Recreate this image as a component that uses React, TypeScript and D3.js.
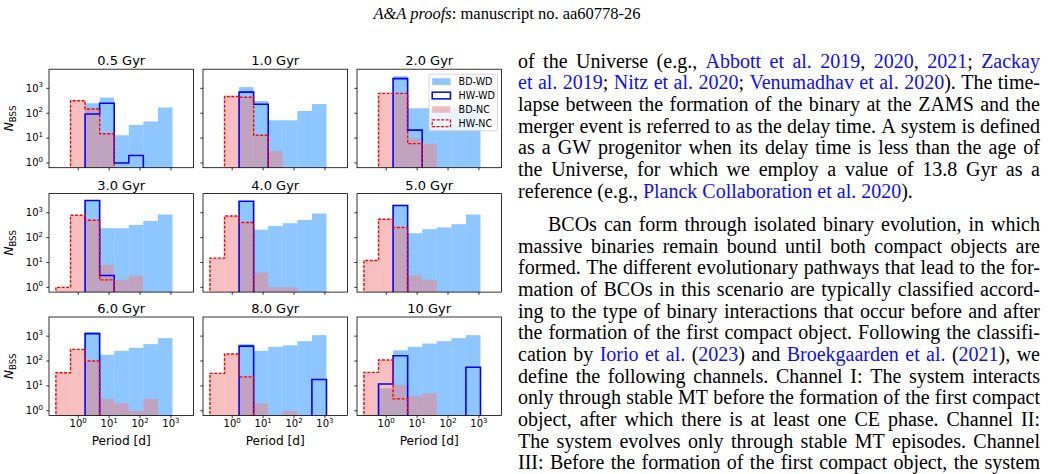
import * as d3 from "d3";

// Histogram values per panel (counts per log-period bin).
const ages = ["0.5 Gyr", "1.0 Gyr", "2.0 Gyr", "3.0 Gyr", "4.0 Gyr", "5.0 Gyr", "6.0 Gyr", "8.0 Gyr", "10 Gyr"];
const binEdges = [0.19, 0.564, 1.667, 4.94, 14.62, 43.25, 127.9, 379.3, 1122, 3311];

const bdWd = [
  [0, 0, 251, 427, 13, 34, 47, 170, 0],
  [0, 0, 1122, 309, 52, 52, 123, 234, 0],
  [0, 0, 3090, 158, 158, 158, 178, 224, 0],
  [0, 0, 3236, 240, 240, 324, 468, 851, 0],
  [0, 0, 2884, 209, 295, 380, 513, 933, 0],
  [0, 0, 2089, 151, 219, 257, 347, 851, 0],
  [0, 0, 1445, 178, 257, 339, 479, 832, 0],
  [0, 0, 479, 257, 372, 427, 631, 1096, 0],
  [0, 8, 269, 372, 501, 631, 832, 1096, 0],
];
const hwWd = [
  [0, 0, 93, 251, 1, 2, 0, 0, 0],
  [0, 0, 708, 229, 0, 0, 0, 0, 0],
  [0, 0, 2455, 21, 0, 0, 0, 0, 0],
  [0, 0, 3090, 3, 0, 0, 0, 0, 0],
  [0, 0, 2884, 0, 0, 0, 0, 0, 0],
  [0, 0, 1950, 0, 0, 0, 0, 0, 0],
  [0, 0, 1259, 0, 0, 0, 0, 0, 0],
  [0, 0, 398, 0, 0, 0, 0, 18, 0],
  [0, 12, 162, 0, 0, 0, 0, 56, 0],
];
const bdNc = [
  [0, 316, 148, 15, 0, 0, 0, 0, 0],
  [0, 490, 436, 13, 3, 0, 0, 0, 0],
  [0, 631, 631, 10, 6, 0, 0, 0, 0],
  [1, 794, 501, 8, 2, 3, 0, 0, 0],
  [15, 741, 407, 4, 1, 1, 0, 0, 0],
  [12, 550, 257, 3, 2, 0, 0, 0, 0],
  [34, 295, 100, 3, 2, 1, 3, 0, 0],
  [32, 191, 23, 2, 0, 1, 0, 0, 0],
  [35, 110, 11, 4, 5, 0, 0, 0, 0],
];
const hwNc = [
  [0, 316, 148, 15, 0, 0, 0, 0, 0],
  [0, 468, 436, 13, 0, 0, 0, 0, 0],
  [0, 631, 631, 6, 0, 0, 0, 0, 0],
  [1, 794, 501, 2, 0, 0, 0, 0, 0],
  [15, 741, 407, 0, 0, 0, 0, 0, 0],
  [12, 550, 257, 0, 0, 0, 0, 0, 0],
  [34, 295, 100, 0, 0, 0, 0, 0, 0],
  [32, 191, 23, 0, 0, 0, 0, 0, 0],
  [35, 110, 3, 0, 0, 0, 0, 0, 0],
];

const decadeTicks = [1, 10, 100, 1000];
const tickExponents = ["0", "1", "2", "3"];
const xDomain = [0.1135, 5370];
const yDomain = [0.6457, 5888];
const legendLabels = ["BD-WD", "HW-WD", "BD-NC", "HW-NC"];

const headerItalic = "A&A proofs";
const headerRest = ": manuscript no. aa60778-26";

// {...} marks a citation link
const para1 = [
  "of the Universe (e.g., {Abbott et al. 2019}, {2020}, {2021}; {Zackay",
  "{et al. 2019}; {Nitz et al. 2020}; {Venumadhav et al. 2020}). The time-",
  "lapse between the formation of the binary at the ZAMS and the",
  "merger event is referred to as the delay time. A system is defined",
  "as a GW progenitor when its delay time is less than the age of",
  "the Universe, for which we employ a value of 13.8 Gyr as a",
  "reference (e.g., {Planck Collaboration et al. 2020}).",
];
const para2 = [
  "BCOs can form through isolated binary evolution, in which",
  "massive binaries remain bound until both compact objects are",
  "formed. The different evolutionary pathways that lead to the for-",
  "mation of BCOs in this scenario are typically classified accord-",
  "ing to the type of binary interactions that occur before and after",
  "the formation of the first compact object. Following the classifi-",
  "cation by {Iorio et al.} ({2023}) and {Broekgaarden et al.} ({2021}), we",
  "define the following channels. Channel I: The system interacts",
  "only through stable MT before the formation of the first compact",
  "object, after which there is at least one CE phase. Channel II:",
  "The system evolves only through stable MT episodes. Channel",
  "III: Before the formation of the first compact object, the system",
];

const W = 144.5;
const H = 98.5;
const colX = [49, 203, 357];
const rowY = [69.2, 193.6, 317];
const SANS = "DejaVu Sans";
const SERIF = "Liberation Serif";
const LINK = "#0d0dff";
const BLUE_FILL = "#1e90ff";
const PINK_FILL = "#f08080";

const x = d3.scaleLog().domain(xDomain).range([0, W]);
const y = d3.scaleLog().domain(yDomain).range([H, 0]);

function stepPath(counts: number[]) {
  let d = "";
  let open = false;
  counts.forEach((c, j) => {
    const x0 = x(binEdges[j]);
    const x1 = x(binEdges[j + 1]);
    if (c > 0) {
      if (!open) {
        d += `M${x0},${H + 3}`;
        open = true;
      }
      d += `L${x0},${y(c)}L${x1},${y(c)}`;
    } else if (open) {
      d += `L${x0},${H + 3}`;
      open = false;
    }
  });
  if (open) d += `L${x(binEdges[counts.length])},${H + 3}`;
  return d;
}

function Bars({ counts, fill }: { counts: number[]; fill: string }) {
  return (
    <g>
      {counts.map((c, j) =>
        c > 0 ? (
          <rect
            key={j}
            x={x(binEdges[j])}
            y={y(c)}
            width={x(binEdges[j + 1]) - x(binEdges[j])}
            height={H - y(c) + 3}
            fill={fill}
            fillOpacity={0.5}
          />
        ) : null
      )}
    </g>
  );
}

function Power({ i, ...rest }: any) {
  return (
    <text fontFamily={SANS} fontSize={10} fill="#000" {...rest}>
      10
      <tspan fontSize={7} dy={-4.3}>
        {tickExponents[i]}
      </tspan>
    </text>
  );
}

function Legend() {
  const bw = 68.5;
  const bx = W - 4 - bw;
  const by = 5;
  return (
    <g>
      <rect x={bx} y={by} width={bw} height={56.5} rx={2} fill="#fff" fillOpacity={0.8} stroke="#cccccc" strokeWidth={0.8} />
      {legendLabels.map((lab, k) => {
        const cy = by + 7.4 + k * 13.9;
        const px = bx + 3.2;
        const pw = 18.3;
        const ph = 6.7;
        let patch;
        if (k === 0) patch = <rect x={px} y={cy - ph / 2} width={pw} height={ph} fill={BLUE_FILL} fillOpacity={0.5} />;
        else if (k === 1) patch = <rect x={px} y={cy - ph / 2} width={pw} height={ph} fill="none" stroke="#0000ff" strokeWidth={1.5} />;
        else if (k === 2) patch = <rect x={px} y={cy - ph / 2} width={pw} height={ph} fill={PINK_FILL} fillOpacity={0.5} />;
        else patch = <rect x={px} y={cy - ph / 2} width={pw} height={ph} fill="none" stroke="#ff0000" strokeWidth={1.3} strokeDasharray="3,1.5" />;
        return (
          <g key={lab}>
            {patch}
            <text x={bx + 29.6} y={cy + 3.4} fontFamily={SANS} fontSize={9.6} fill="#000">
              {lab}
            </text>
          </g>
        );
      })}
    </g>
  );
}

function Panel({ idx }: { idx: number }) {
  const col = idx % 3;
  const row = Math.floor(idx / 3);
  const tick = 2.7;
  return (
    <g transform={`translate(${colX[col]},${rowY[row]})`}>
      <defs>
        <clipPath id={`clip${idx}`}>
          <rect x={0} y={0} width={W} height={H} />
        </clipPath>
      </defs>
      <g clipPath={`url(#clip${idx})`}>
        <Bars counts={bdWd[idx]} fill={BLUE_FILL} />
        <Bars counts={bdNc[idx]} fill={PINK_FILL} />
        <path d={stepPath(hwWd[idx])} fill="none" stroke="#0000ff" strokeWidth={1.6} strokeLinejoin="miter" />
        <path d={stepPath(hwNc[idx])} fill="none" stroke="#ff0000" strokeWidth={1.4} strokeDasharray="3,1.5" />
      </g>
      <rect x={0} y={0} width={W} height={H} fill="none" stroke="#000" strokeWidth={0.8} />
      {decadeTicks.map((t, k) => (
        <g key={`x${k}`}>
          <line x1={x(t)} x2={x(t)} y1={H} y2={H + tick} stroke="#000" strokeWidth={0.8} />
          {row === 2 && <Power i={k} x={x(t)} y={H + 11.5} textAnchor="middle" />}
        </g>
      ))}
      {decadeTicks.map((t, k) => (
        <g key={`y${k}`}>
          <line x1={-tick} x2={0} y1={y(t)} y2={y(t)} stroke="#000" strokeWidth={0.8} />
          {col === 0 && <Power i={k} x={-tick - 3.3} y={y(t) + 3.4} textAnchor="end" />}
        </g>
      ))}
      <text x={W / 2} y={-4} textAnchor="middle" fontFamily={SANS} fontSize={13} fill="#000">
        {ages[idx]}
      </text>
      {row === 2 && (
        <text x={W / 2} y={H + 29.5} textAnchor="middle" fontFamily={SANS} fontSize={12.2} fill="#000">
          Period [d]
        </text>
      )}
      {col === 0 && (
        <text transform={`translate(${-36},${H / 2}) rotate(-90)`} textAnchor="middle" fontFamily={SANS} fontSize={12} fill="#000">
          <tspan fontStyle="italic">N</tspan>
          <tspan fontSize={8.5} dy={2.6}>BSS</tspan>
        </text>
      )}
      {idx === 2 && <Legend />}
    </g>
  );
}

// ---- body text layout (justified, word by word) ----
const BODY_SIZE = 20;
const colLeft = 518;
const colRight = 1040;
const canvasCtx = document.createElement("canvas").getContext("2d")!;
function measure(s: string) {
  canvasCtx.font = `${BODY_SIZE}px '${SERIF}'`;
  return canvasCtx.measureText(s).width;
}

type Seg = { t: string; link: boolean };
function tokenize(line: string): Seg[][] {
  const tokens: Seg[][] = [];
  let cur: Seg[] = [];
  let buf = "";
  let link = false;
  const flush = () => {
    if (buf) cur.push({ t: buf, link });
    buf = "";
  };
  for (const ch of line) {
    if (ch === "{") { flush(); link = true; }
    else if (ch === "}") { flush(); link = false; }
    else if (ch === " ") { flush(); if (cur.length) tokens.push(cur); cur = []; }
    else buf += ch;
  }
  flush();
  if (cur.length) tokens.push(cur);
  return tokens;
}

function TextLine({ line, baseline, indent, justify }: { line: string; baseline: number; indent: number; justify: boolean }) {
  const tokens = tokenize(line);
  const widths = tokens.map((tk) => tk.reduce((s, g) => s + measure(g.t), 0));
  const total = d3.sum(widths);
  const avail = colRight - colLeft - indent;
  const gap = justify && tokens.length > 1 ? (avail - total) / (tokens.length - 1) : measure(" ");
  let cx = colLeft + indent;
  return (
    <g>
      {tokens.map((tk, k) => {
        const px = cx;
        cx += widths[k] + gap;
        return (
          <text key={k} x={px} y={baseline} fontFamily={SERIF} fontSize={BODY_SIZE} fill="#000">
            {tk.map((g, m) => (
              <tspan key={m} fill={g.link ? LINK : "#000"}>
                {g.t}
              </tspan>
            ))}
          </text>
        );
      })}
    </g>
  );
}

export default function App() {
  const lead = 21.65;
  return (
    <svg width={1050} height={474} viewBox="0 0 1050 474" style={{ position: "absolute", left: 0, top: 0, display: "block" }}>
      <rect width={1050} height={474} fill="#fff" />
      <text x={507} y={18.5} textAnchor="middle" fontFamily={SERIF} fontSize={16.5} fill="#000">
        <tspan fontStyle="italic">{headerItalic}</tspan>
        {headerRest}
      </text>
      {ages.map((_, i) => (
        <Panel key={i} idx={i} />
      ))}
      {para1.map((ln, k) => (
        <TextLine key={`a${k}`} line={ln} baseline={67.8 + k * lead} indent={0} justify={k < para1.length - 1} />
      ))}
      {para2.map((ln, k) => (
        <TextLine key={`b${k}`} line={ln} baseline={231.1 + k * lead} indent={k === 0 ? 30 : 0} justify={true} />
      ))}
    </svg>
  );
}
